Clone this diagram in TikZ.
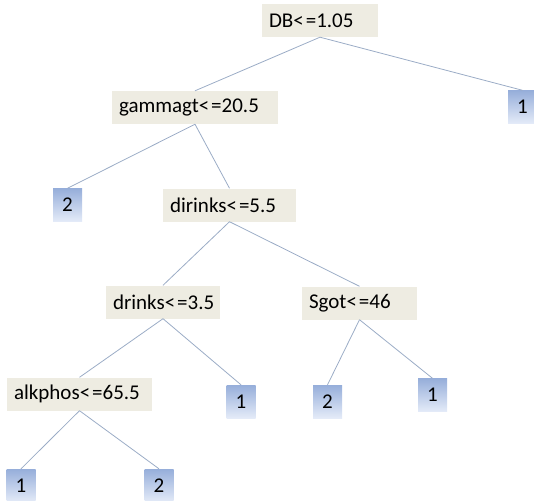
\documentclass[tikz,border=0pt]{standalone}
\usepackage{fontspec}
\setmainfont{Carlito}
\definecolor{splitbg}{RGB}{238,236,226}
\definecolor{leaftop}{RGB}{150,174,218}
\definecolor{leafbot}{RGB}{228,235,248}
\definecolor{edgeblue}{RGB}{155,172,198}
\newcommand{\treefont}{\fontsize{21}{25}\selectfont}
\newcommand{\leqsign}{<\kern2pt=}
\tikzset{
  split/.style={fill=splitbg, text width=#1pt, align=left,
    inner xsep=7pt, inner ysep=0pt, minimum height=33pt, font=\treefont},
  leaf/.style={top color=leaftop, bottom color=leafbot,
    minimum width=29pt, minimum height=33pt, inner sep=0pt, font=\treefont},
  branch/.style={draw=edgeblue, line width=0.8pt}
}

\begin{document}
\begin{tikzpicture}[x=1pt,y=-1pt]
  \useasboundingbox (0,0) rectangle (534,500);
  % splits
  \node[split=102] (db) at (320,20.5) {DB\leqsign1.05};
  \node[split=152] (gamma) at (195,107.5) {gammagt\leqsign20.5};
  \node[split=119] (dirinks) at (229.5,205) {dirinks\leqsign5.5};
  \node[split=100] (drinks) at (163,302) {drinks\leqsign3.5};
  \node[split=101] (sgot) at (359.5,303) {Sgot\leqsign46};
  \node[split=131] (alk) at (79.5,394) {alkphos\leqsign65.5};
  % leaves
  \node[leaf] (dbR) at (522.5,107) {1};
  \node[leaf] (gammaL) at (67.5,205) {2};
  \node[leaf] (drinksR) at (241,401.5) {1};
  \node[leaf] (sgotL) at (327.5,401.5) {2};
  \node[leaf] (sgotR) at (432.5,395) {1};
  \node[leaf] (alkL) at (21,485.5) {1};
  \node[leaf] (alkR) at (159,485.5) {2};
  % branches
  \draw[branch] (db.south) -- (gamma.north);
  \draw[branch] (db.south) -- (dbR.north);
  \draw[branch] (gamma.south) -- (gammaL.north);
  \draw[branch] (gamma.south) -- (dirinks.north);
  \draw[branch] (dirinks.south) -- (drinks.north);
  \draw[branch] (dirinks.south) -- (sgot.north);
  \draw[branch] (drinks.south) -- (alk.north);
  \draw[branch] (drinks.south) -- (drinksR.north);
  \draw[branch] (sgot.south) -- (sgotL.north);
  \draw[branch] (sgot.south) -- (sgotR.north);
  \draw[branch] (alk.south) -- (alkL.north);
  \draw[branch] (alk.south) -- (alkR.north);
\end{tikzpicture}
\end{document}
